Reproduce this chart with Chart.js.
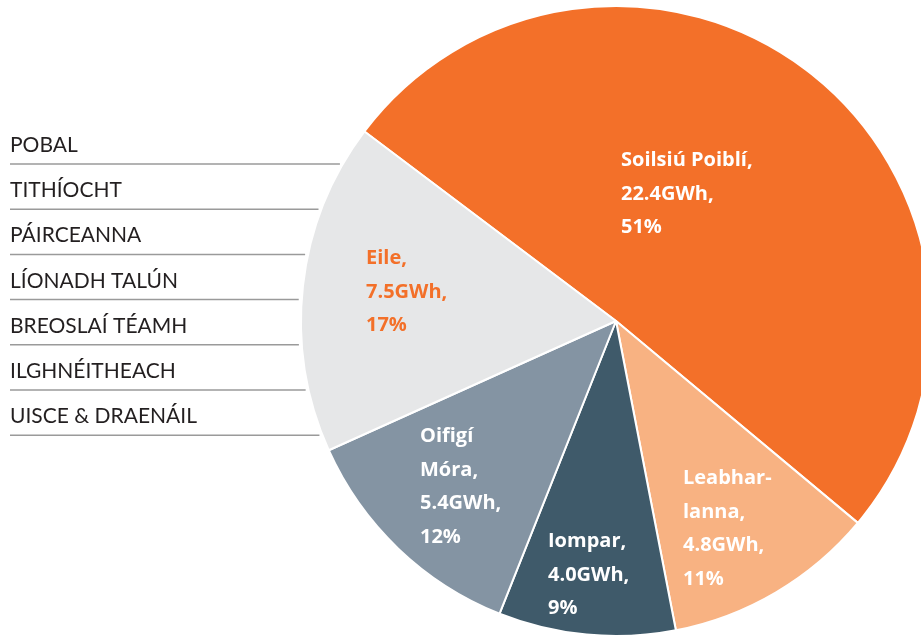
<!DOCTYPE html>
<html>
<head>
<meta charset="utf-8">
<script src="https://cdn.jsdelivr.net/npm/chart.js@4/dist/chart.umd.min.js"></script>
<style>
  html, body { margin: 0; padding: 0; background: #fff; overflow: hidden; }
  #wrap { position: absolute; left: 0; top: 0; width: 940px; height: 637px; }
</style>
</head>
<body>
<div id="wrap"><canvas id="pie"></canvas></div>
<script>
// slices, clockwise from the top-left edge
const categories = ['Soilsiú Poiblí', 'Leabhar-lanna', 'Iompar', 'Oifigí Móra', 'Eile'];
const gwh = [22.4, 4.8, 4.0, 5.4, 7.5];
const percents = [51, 11, 9, 12, 17];
// label lines shown inside each slice
const sliceLabels = [
  ['Soilsiú Poiblí,', '22.4GWh,', '51%'],
  ['Leabhar-', 'lanna,', '4.8GWh,', '11%'],
  ['Iompar,', '4.0GWh,', '9%'],
  ['Oifigí', 'Móra,', '5.4GWh,', '12%'],
  ['Eile,', '7.5GWh,', '17%']
];
// breakdown of "Eile" listed on the left
const eileParts = ['POBAL', 'TITHÍOCHT', 'PÁIRCEANNA', 'LÍONADH TALÚN', 'BREOSLAÍ TÉAMH', 'ILGHNÉITHEACH', 'UISCE & DRAENÁIL'];

const colors = ['#F37029', '#F8B282', '#3F5A6A', '#8494A3', '#E6E7E8'];
const labelColors = ['#fff', '#fff', '#fff', '#fff', '#F37029'];
// first-baseline offset of each label block from the pie centre
const labelOffsets = [[5, -155], [67, 163], [-68, 226], [-196, 121], [-250, -57]];

const overlay = {
  id: 'overlay',
  afterDraw(chart) {
    const ctx = chart.ctx;
    const arc = chart.getDatasetMeta(0).data[0];
    const cx = arc.x, cy = arc.y, r = arc.outerRadius;
    ctx.save();
    ctx.textBaseline = 'alphabetic';
    ctx.textAlign = 'left';
    ctx.font = '700 20px "Open Sans", Lato, sans-serif';
    sliceLabels.forEach((lines, i) => {
      ctx.fillStyle = labelColors[i];
      lines.forEach((t, j) => {
        ctx.fillText(t, cx + labelOffsets[i][0], cy + labelOffsets[i][1] + j * 33.5);
      });
    });
    // left list with rules that run up to the pie edge
    ctx.font = '400 21px Lato, "Open Sans", sans-serif';
    eileParts.forEach((t, i) => {
      const lineY = 164 + i * 45.2;
      ctx.fillStyle = '#231F20';
      ctx.fillText(t, 10, lineY - 12);
      const dy = lineY - cy;
      const edge = cx - Math.sqrt(Math.max(r * r - dy * dy, 0)) - 3;
      ctx.strokeStyle = '#9A9A9A';
      ctx.lineWidth = 1.5;
      ctx.beginPath();
      ctx.moveTo(10, lineY);
      ctx.lineTo(edge, lineY);
      ctx.stroke();
    });
    ctx.restore();
  }
};

new Chart(document.getElementById('pie'), {
  type: 'pie',
  data: {
    labels: categories,
    datasets: [{
      data: gwh,
      backgroundColor: colors,
      borderColor: '#fff',
      borderWidth: 2
    }]
  },
  options: {
    responsive: true,
    maintainAspectRatio: false,
    animation: false,
    rotation: -53,
    radius: 315,
    layout: { padding: { left: 292, top: 5, right: 0, bottom: 0 } },
    plugins: { legend: { display: false }, tooltip: { enabled: false } }
  },
  plugins: [overlay]
});
</script>
</body>
</html>
